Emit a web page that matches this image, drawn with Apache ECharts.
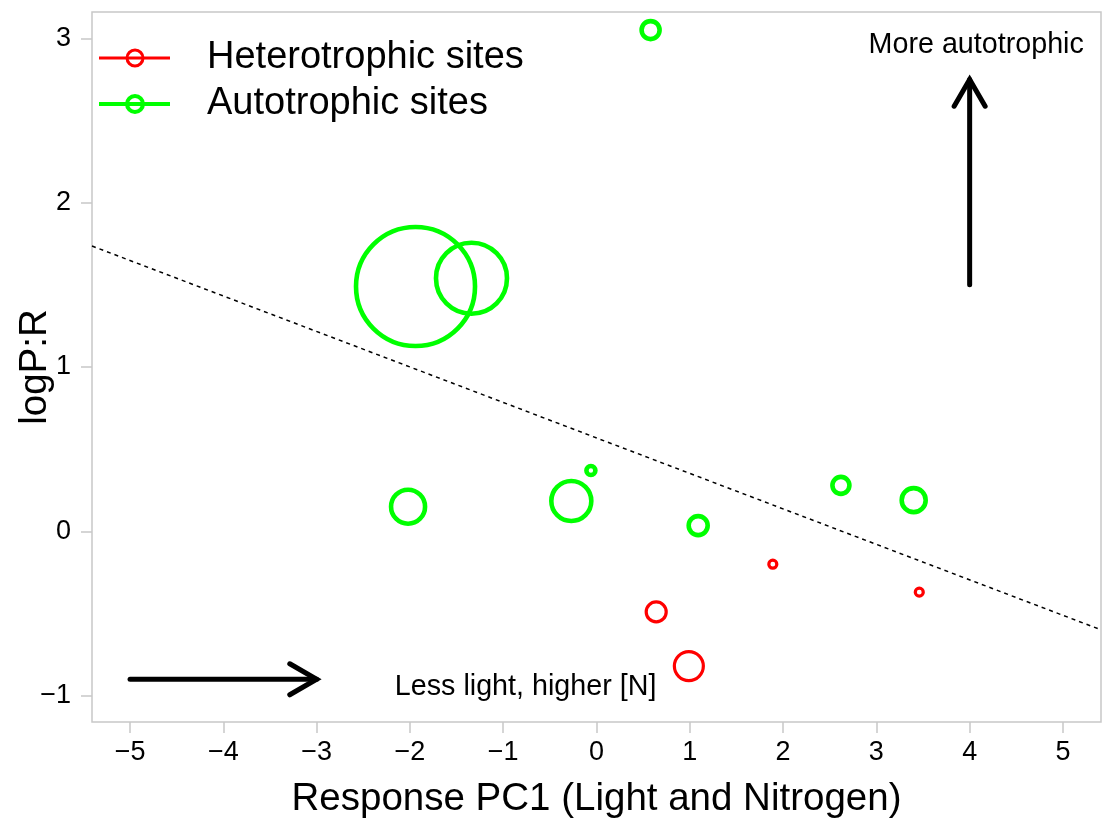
<!DOCTYPE html>
<html>
<head>
<meta charset="utf-8">
<title>logP:R vs Response PC1</title>
<script src="https://cdn.jsdelivr.net/npm/echarts@6/dist/echarts.min.js"></script>
<style>
  html, body { margin: 0; padding: 0; background: #ffffff; }
  #chart { width: 1102px; height: 819px; }
</style>
</head>
<body>
<div id="chart"></div>
<script>
// Site positions on the response axis and their log P:R ratio
const heteroX = [1.89, 3.46, 0.64, 0.99];
const heteroY = [-0.20, -0.37, -0.49, -0.82];
const heteroCex = [0.8, 0.8, 2.0, 2.9];

const autoX = [0.58, -1.94, -1.34, -2.02, -0.27, -0.06, 1.09, 2.62, 3.40];
const autoY = [3.05, 1.49, 1.54, 0.15, 0.185, 0.37, 0.035, 0.28, 0.19];
const autoCex = [1.8, 11.9, 7.1, 3.4, 4.0, 0.9, 1.9, 1.7, 2.4];

// Fitted dividing line (endpoints at the plot limits)
const fitX = [-5.408, 5.408];
const fitY = [1.736, -0.599];

// Direction arrows: [x0, y0, x1, y1]
const arrowX0 = [-5, 4];
const arrowY0 = [-0.9, 1.5];
const arrowX1 = [-3, 4];
const arrowY1 = [-0.9, 2.75];

// Annotation texts
const noteText = ['More autotrophic', 'Less light, higher [N]'];
const noteX = [4.07, -0.76];
const noteY = [2.96, -0.95];

const xTicks = [-5, -4, -3, -2, -1, 0, 1, 2, 3, 4, 5];
const yTicks = [-1, 0, 1, 2, 3];
const seriesNames = ['Heterotrophic sites', 'Autotrophic sites'];

const FONT = '"Liberation Sans", Arial, sans-serif';
const RED = '#ff0000';
const GREEN = '#00ff00';
const SIZE_SCALE = 10;

const fmt = v => (v < 0 ? '\u2212' + Math.abs(v) : String(v));

const zip = (xs, ys, ss) => xs.map((x, i) => ss ? [x, ys[i], ss[i]] : [x, ys[i]]);

const chart = echarts.init(document.getElementById('chart'), null, { renderer: 'canvas' });

const option = {
  animation: false,
  backgroundColor: '#ffffff',
  grid: {
    left: 92, right: 1, top: 12, bottom: 97,
    outerBoundsMode: 'none', containLabel: false,
    show: true, borderColor: '#c8c8c8', borderWidth: 1.5, backgroundColor: 'transparent'
  },
  xAxis: {
    type: 'value', min: -5.408, max: 5.408,
    name: 'Response PC1 (Light and Nitrogen)',
    nameLocation: 'middle', nameGap: 58, nameMoveOverlap: false,
    nameTextStyle: { fontFamily: FONT, fontSize: 38.5, color: '#000', verticalAlign: 'top' },
    axisLine: { show: false, onZero: false },
    splitLine: { show: false },
    axisTick: { show: true, length: 11, customValues: xTicks, lineStyle: { color: '#c8c8c8', width: 1.5 } },
    axisLabel: { customValues: xTicks, margin: 17, formatter: fmt, fontFamily: FONT, fontSize: 27, color: '#000' }
  },
  yAxis: {
    type: 'value', min: -1.16, max: 3.16,
    name: 'logP:R',
    nameLocation: 'middle', nameGap: 57, nameRotate: 90, nameMoveOverlap: false,
    nameTextStyle: { fontFamily: FONT, fontSize: 38.5, color: '#000', verticalAlign: 'middle' },
    axisLine: { show: false, onZero: false },
    splitLine: { show: false },
    axisTick: { show: true, length: 11, customValues: yTicks, lineStyle: { color: '#c8c8c8', width: 1.5 } },
    axisLabel: { customValues: yTicks, margin: 21, formatter: fmt, fontFamily: FONT, fontSize: 27, color: '#000' }
  },
  series: [
    {
      name: 'fit', type: 'line', data: zip(fitX, fitY), symbol: 'none', silent: true,
      lineStyle: { color: '#000', width: 1.5, type: [4, 4] }, z: 2
    },
    {
      name: seriesNames[0], type: 'scatter', data: zip(heteroX, heteroY, heteroCex),
      symbol: 'circle', symbolSize: d => d[2] * SIZE_SCALE,
      itemStyle: { color: 'rgba(0,0,0,0)', borderColor: RED, borderWidth: 3.2, opacity: 1 }, z: 3
    },
    {
      name: seriesNames[1], type: 'scatter', data: zip(autoX, autoY, autoCex),
      symbol: 'circle', symbolSize: d => d[2] * SIZE_SCALE,
      itemStyle: { color: 'rgba(0,0,0,0)', borderColor: GREEN, borderWidth: 4.6, opacity: 1 }, z: 3
    },
    {
      name: 'arrows', type: 'custom', coordinateSystem: 'cartesian2d', silent: true,
      data: arrowX0.map((x, i) => [x, arrowY0[i], arrowX1[i], arrowY1[i]]),
      encode: { x: [0, 2], y: [1, 3] },
      renderItem: (params, api) => {
        const p0 = api.coord([api.value(0), api.value(1)]);
        const p1 = api.coord([api.value(2), api.value(3)]);
        const ang = Math.atan2(p1[1] - p0[1], p1[0] - p0[0]);
        const len = 31, spread = Math.PI / 6;
        const w1 = [p1[0] - len * Math.cos(ang - spread), p1[1] - len * Math.sin(ang - spread)];
        const w2 = [p1[0] - len * Math.cos(ang + spread), p1[1] - len * Math.sin(ang + spread)];
        const style = { stroke: '#000', lineWidth: 5, fill: null, lineCap: 'round', lineJoin: 'miter' };
        return {
          type: 'group',
          children: [
            { type: 'line', shape: { x1: p0[0], y1: p0[1], x2: p1[0], y2: p1[1] }, style },
            { type: 'polyline', shape: { points: [w1, p1, w2] }, style }
          ]
        };
      },
      z: 4
    },
    {
      name: 'notes', type: 'custom', coordinateSystem: 'cartesian2d', silent: true,
      data: noteX.map((x, i) => [x, noteY[i], i]),
      renderItem: (params, api) => {
        const p = api.coord([api.value(0), api.value(1)]);
        return {
          type: 'text',
          style: {
            text: noteText[api.value(2)], x: p[0], y: p[1],
            align: 'center', verticalAlign: 'middle',
            font: '28.7px ' + FONT, fill: '#000'
          }
        };
      },
      z: 4
    }
  ],
  graphic: [
    { type: 'line', shape: { x1: 99, y1: 58, x2: 170, y2: 58 }, style: { stroke: RED, lineWidth: 3 } },
    { type: 'circle', shape: { cx: 135, cy: 58, r: 8 }, style: { stroke: RED, lineWidth: 3, fill: null } },
    { type: 'text', x: 207, y: 58, style: { text: seriesNames[0], font: '38px ' + FONT, fill: '#000', verticalAlign: 'middle' } },
    { type: 'line', shape: { x1: 99, y1: 104, x2: 170, y2: 104 }, style: { stroke: GREEN, lineWidth: 4 } },
    { type: 'circle', shape: { cx: 135, cy: 104, r: 8 }, style: { stroke: GREEN, lineWidth: 4, fill: null } },
    { type: 'text', x: 207, y: 104, style: { text: seriesNames[1], font: '38px ' + FONT, fill: '#000', verticalAlign: 'middle' } }
  ]
};

chart.setOption(option);
</script>
</body>
</html>
